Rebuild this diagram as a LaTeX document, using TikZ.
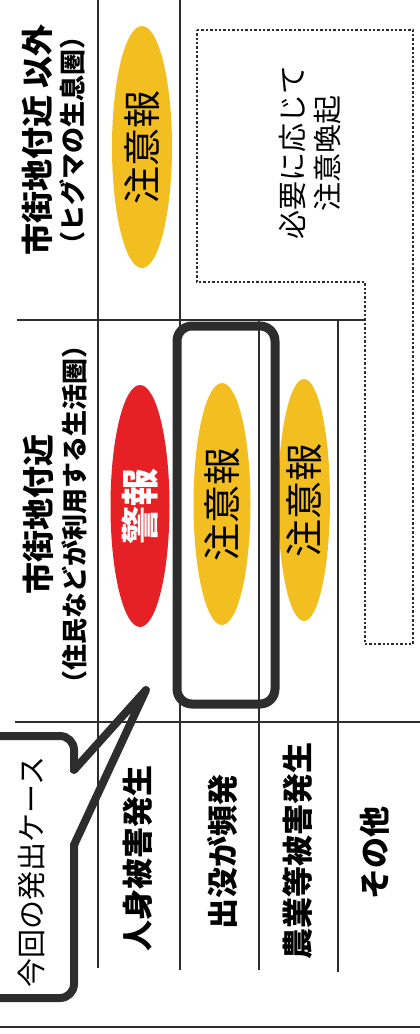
\documentclass[tikz,border=0pt]{standalone}
\usepackage{fontspec}
\setmainfont{Noto Sans CJK JP}
\usetikzlibrary{shapes.geometric}
\definecolor{keihored}{RGB}{229,33,38}
\definecolor{chuiyellow}{RGB}{243,190,32}
\definecolor{inkgray}{RGB}{45,45,45}

\begin{document}
\begin{tikzpicture}[x=1pt,y=-1pt,
  rule/.style={inkgray,line width=1.2pt},
  alert/.style={ellipse,rotate=90,inner sep=0pt,minimum width=242pt,
    font=\fontsize{38}{38}\selectfont},
  head/.style={rotate=90,inner sep=0pt,font=\bfseries\fontsize{32}{32}\selectfont},
  subhead/.style={rotate=90,inner sep=0pt,font=\bfseries\fontsize{26}{26}\selectfont},
  rowlabel/.style={rotate=90,inner sep=0pt,font=\bfseries\fontsize{31}{31}\selectfont},
  note/.style={rotate=90,inner sep=0pt,font=\fontsize{29}{29}\selectfont},
  callout/.style={inkgray,line width=8pt,line cap=round,line join=round}]
\useasboundingbox (0,0) rectangle (420,1034);
%\draw[help lines,step=50] (0,0) grid (420,1034);

% table rules
\draw[rule] (98,0) -- (98,968);
\draw[rule] (180,0) -- (180,970);
\draw[rule] (259,320) -- (259,970);
\draw[rule] (338,320) -- (338,972);
\draw[rule] (17,320) -- (365,320);
\draw[rule] (15,722) -- (420,722);
\draw[inkgray,line width=2pt] (0,1027) -- (420,1027);

% column heads
\node[head] (sotohead) at (37,140) {市街地付近 以外};
\node[subhead] (sotosub) at (72,140) {（ヒグマの生息圏）};
\node[head] (kinbohead) at (38,514) {市街地付近};
\node[subhead] (kinbosub) at (74,514) {（住民などが利用する生活圏）};

% warnings
\node[alert,fill=chuiyellow,minimum height=60pt] (chuisoto) at (142,147) {注意報};
\node[alert,fill=keihored,minimum height=59pt,text=white,font=\bfseries\fontsize{38}{38}\selectfont] (keiho) at (140,506) {警報};
\node[alert,fill=chuiyellow,minimum height=57pt] (chuishutsu) at (222,504) {注意報};
\node[alert,fill=chuiyellow,minimum height=52pt] (chuinogyo) at (304,500) {注意報};

% dotted area
\draw[inkgray,line width=2.4pt,dash pattern=on 2.4pt off 2pt]
  (197,30) -- (413,30) -- (413,644) -- (365,644) -- (365,282) -- (197,282) -- cycle;
\node[note] (hitsuyo) at (293,152) {必要に応じて};
\node[note] (kanki) at (328,153) {注意喚起};

% row labels
\foreach \n/\x/\y/\t in {jinshin/138/858/人身被害発生,shutsubotsu/222/852/出没が頻発,
    nogyo/298/851/農業等被害発生,sonota/375/853/その他}{
  \node[rowlabel] (\n) at (\x,\y) {\t};
}

% this case
\node[draw=inkgray,line width=9pt,rounded corners=15pt,minimum width=98pt,
  minimum height=378pt,inner sep=0pt] (konkai) at (226,515) {};

% callout
\draw[callout,line cap=butt,rounded corners=14pt] (74,772) -- (74,736) -- (-20,736);
\draw[callout,line cap=butt,rounded corners=14pt] (74,843) -- (74,998) -- (-20,998);
\draw[callout] (74,770) -- (146,690) -- (74,845);
\node[rotate=90,inner sep=0pt,font=\fontsize{29}{29}\selectfont] (kaisu) at (32,872) {今回の発出ケース};

\end{tikzpicture}
\end{document}
